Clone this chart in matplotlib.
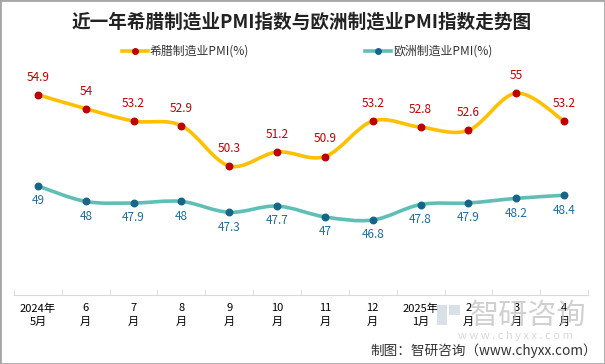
import numpy as np
import matplotlib
matplotlib.use("Agg")
import matplotlib.pyplot as plt
from matplotlib.path import Path
from matplotlib.patches import PathPatch, Rectangle
from matplotlib.lines import Line2D

plt.rcParams['font.family'] = ['Noto Sans CJK SC', 'DejaVu Sans']

# data
months = ['2024年\n5月', '6\n月', '7\n月', '8\n月', '9\n月', '10\n月', '11\n月',
          '12\n月', '2025年\n1月', '2\n月', '3\n月', '4\n月']
greece = [54.9, 54, 53.2, 52.9, 50.3, 51.2, 50.9, 53.2, 52.8, 52.6, 55, 53.2]
europe = [49, 48, 47.9, 48, 47.3, 47.7, 47, 46.8, 47.8, 47.9, 48.2, 48.4]

title = '近一年希腊制造业PMI指数与欧洲制造业PMI指数走势图'
name_gr = '希腊制造业PMI(%)'
name_eu = '欧洲制造业PMI(%)'


def smooth_path(xs, ys):
    # excel-like smoothed line as bezier segments through the points
    pts = np.column_stack([xs, ys]).astype(float)
    n = len(pts)
    verts = [pts[0]]
    codes = [Path.MOVETO]
    for i in range(n - 1):
        p0 = pts[i - 1] if i > 0 else pts[i]
        p1 = pts[i]
        p2 = pts[i + 1]
        p3 = pts[i + 2] if i + 2 < n else pts[i + 1]
        c1 = p1 + (p2 - p0) / 6.0
        c2 = p2 - (p3 - p1) / 6.0
        verts += [c1, c2, p2]
        codes += [Path.CURVE4] * 3
    return Path(verts, codes)


W, H = 605, 364
fig = plt.figure(figsize=(W / 100, H / 100), dpi=100)
fig.patches.append(Rectangle((0, 0), 1, 1, transform=fig.transFigure,
                             fill=False, edgecolor='#A6A6A6', linewidth=2))

# watermark (behind the chart)
fig.patches.append(Rectangle((437 / W, 1 - 325 / H), 10 / W, 20 / H, transform=fig.transFigure,
                             facecolor='#C9D3DE', edgecolor='none', alpha=0.7, zorder=0))
fig.patches.append(Rectangle((449 / W, 1 - 315 / H), 11 / W, 10 / H, transform=fig.transFigure,
                             facecolor='#C9D3DE', edgecolor='none', alpha=0.7, zorder=0))
fig.text(528 / W, 1 - 316 / H, '智研咨询', ha='center', va='center',
         fontsize=21, color='#BDBDBD', alpha=0.7, zorder=0)
fig.text(515 / W, 1 - 336 / H, 'w w w . c h y x x . c o m', ha='center',
         va='center', fontsize=8, color='#C8C8C8', alpha=0.7, zorder=0)

ax = fig.add_axes([14 / W, 1 - 295 / H, 574 / W, 225 / H])
ax.patch.set_alpha(0)

x = np.arange(len(months))
gr_line = '#FFC000'
gr_dot = '#C00000'
eu_line = '#5FBFB6'
eu_dot = '#17668A'

ax.add_patch(PathPatch(smooth_path(x, greece), facecolor='none',
                       edgecolor=gr_line, linewidth=2.6, capstyle='round'))
ax.add_patch(PathPatch(smooth_path(x, europe), facecolor='none',
                       edgecolor=eu_line, linewidth=2.6, capstyle='round'))
ax.scatter(x, greece, s=22, color=gr_dot, zorder=3)
ax.scatter(x, europe, s=22, color=eu_dot, zorder=3)

for xi, v in zip(x, greece):
    ax.annotate(f'{v:g}', (xi, v), xytext=(0, 8), textcoords='offset points',
                ha='center', va='bottom', fontsize=8.5, color='#C00000')
for xi, v in zip(x, europe):
    ax.annotate(f'{v:g}', (xi, v), xytext=(0, -6), textcoords='offset points',
                ha='center', va='top', fontsize=8.5, color='#1F6E9C')

ax.set_xlim(-0.5, len(months) - 0.5)
ax.set_ylim(41.95, 56.5)
ax.set_yticks([])
ax.set_xticks(x)
ax.set_xticklabels(months, fontsize=8, linespacing=1.45)
ax.set_xticks(np.arange(-0.5, len(months), 1), minor=True)
ax.tick_params(axis='x', which='major', length=0, pad=6)
ax.tick_params(axis='x', which='minor', length=4, color='#D9D9D9', direction='in')
for s in ['top', 'left', 'right']:
    ax.spines[s].set_visible(False)
ax.spines['bottom'].set_color('#D9D9D9')

fig.text(302 / W, 1 - 22 / H, title, ha='center', va='center',
         fontsize=13.4, fontweight='bold', color='#222222')

# legend drawn by hand to place the two entries like the reference
for x0, x1, lc, dc, label in [(122, 148, gr_line, gr_dot, name_gr),
                              (365, 391, eu_line, eu_dot, name_eu)]:
    yl = 1 - 51 / H
    fig.add_artist(Line2D([x0 / W, x1 / W], [yl, yl], color=lc, linewidth=2.6))
    fig.add_artist(Line2D([(x0 + x1) / 2 / W], [yl], marker='o', markersize=4,
                          color=dc, linestyle='none'))
    fig.text((x1 + 2) / W, yl, label, ha='left', va='center', fontsize=8.6,
             color='#333333')

fig.text(597 / W, 1 - 351 / H, '制图：智研咨询（www.chyxx.com）', ha='right',
         va='center', fontsize=9.8, color='#333333')

fig.savefig('out.png', dpi=100)
